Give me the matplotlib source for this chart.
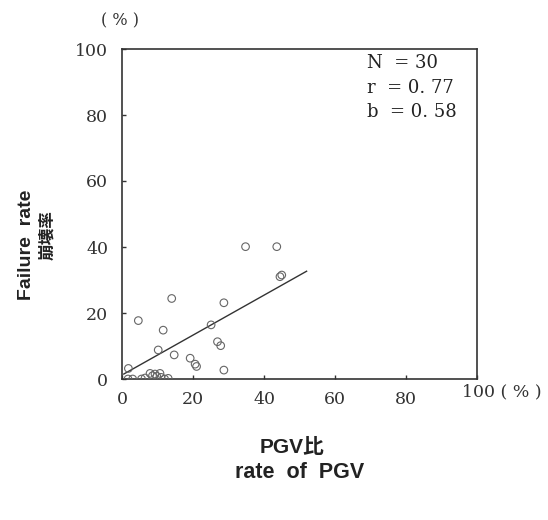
import matplotlib
matplotlib.use("Agg")
import matplotlib.pyplot as plt
import numpy as np

# Data
pgv_rate = [34.8, 43.6, 44.5, 45.0, 14.0, 28.7, 4.6, 11.6, 25.1, 26.9, 27.8,
            10.2, 14.7, 19.2, 20.6, 21.0, 28.7, 1.8, 7.9, 9.3, 10.7, 5.5,
            1.7, 12.0, 8.6, 3.0, 11.0, 6.5, 9.8, 13.0]
failure_rate = [40.1, 40.1, 31.0, 31.5, 24.4, 23.1, 17.7, 14.8, 16.4, 11.3, 10.1,
                8.8, 7.3, 6.3, 4.5, 3.8, 2.7, 3.2, 1.7, 1.5, 1.7, 0.0,
                0.0, 0.0, 1.0, 0.0, 0.5, 0.3, 0.8, 0.2]
fit_intercept = 1.2
fit_slope = 0.605
fit_x_range = [0.5, 52.0]
xticks = [0, 20, 40, 60, 80, 100]
yticks = [0, 20, 40, 60, 80, 100]
stats_text = ["N  = 30", "r  = 0. 77", "b  = 0. 58"]

serif = ["DejaVu Serif"]
sans = ["Liberation Sans", "Noto Sans CJK JP", "DejaVu Sans"]

fig = plt.figure(figsize=(5.48, 5.2), dpi=100)
ax = fig.add_axes([122/548, 1-379/520, (477-122)/548, (379-49)/520])

ax.scatter(pgv_rate, failure_rate, s=30, facecolors="none",
           edgecolors="#666666", linewidths=0.8, zorder=3)
fx = np.array(fit_x_range)
ax.plot(fx, fit_intercept + fit_slope*fx, color="#333333", lw=1.0)

ax.set_xlim(0, 100)
ax.set_ylim(0, 100)
ax.set_xticks(xticks)
ax.set_yticks(yticks)
ax.set_xticklabels(["0", "20", "40", "60", "80", ""])
ax.set_yticklabels([str(v) for v in yticks])
ax.tick_params(direction="in", length=3, width=1, colors="#333333",
               labelcolor="#333333", labelsize=12.5)
ax.tick_params(axis="x", pad=9)
ax.tick_params(axis="y", pad=10)
for lab in ax.get_xticklabels() + ax.get_yticklabels():
    lab.set_fontfamily(serif)
for sp in ax.spines.values():
    sp.set_color("#333333")
    sp.set_linewidth(1.2)

fig.text(462/548, 1-392/520, "100 ( % )", fontsize=12.5, family=serif,
         color="#333333", ha="left", va="center")
fig.text(120/548, 1-21/520, "( % )", fontsize=11.5, family=serif,
         color="#333333", ha="center", va="center")

for i, t in enumerate(stats_text):
    fig.text(367/548, 1-(63 + i*24.5)/520, t, fontsize=13, family=serif,
             color="#222222", ha="left", va="center")

fig.text(27/548, 1-245/520, "Failure  rate", fontsize=14, family=sans,
         weight="bold", rotation=90, ha="center", va="center", color="#222222")
fig.text(47/548, 1-235/520, "崩壊率", fontsize=12, family=["Noto Sans CJK JP", "DejaVu Sans"],
         weight="bold", rotation=90, ha="center", va="center", color="#222222")

fig.text(292/548, 1-447/520, "PGV比", fontsize=15, family=["Liberation Sans", "Noto Sans CJK JP"],
         weight="bold", ha="center", va="center", color="#222222")
fig.text(300/548, 1-473/520, "rate  of  PGV", fontsize=15.5, family=sans,
         weight="bold", ha="center", va="center", color="#222222")

fig.savefig("out.png", dpi=100)
